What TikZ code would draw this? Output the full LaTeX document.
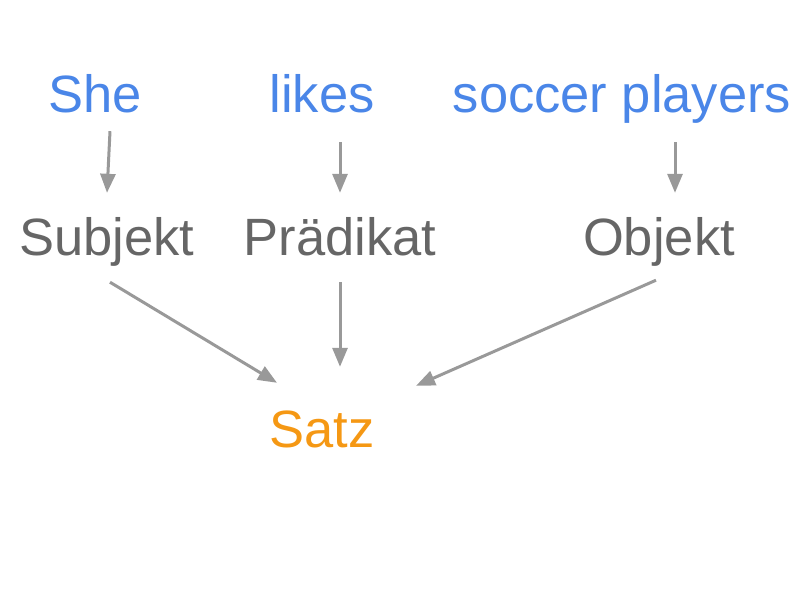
\documentclass[tikz,border=0pt]{standalone}
\usepackage{fontspec}
\setmainfont{Liberation Sans}
\usetikzlibrary{arrows.meta}
\definecolor{wordblue}{RGB}{74,134,232}
\definecolor{rolegray}{RGB}{102,102,102}
\definecolor{arrowgray}{RGB}{153,153,153}
\definecolor{satzorange}{RGB}{245,152,20}

\begin{document}
\begin{tikzpicture}[x=1pt, y=-1pt,
    word/.style={inner sep=0pt, anchor=base, text height=38pt, text depth=11pt,
        font=\fontsize{52.5}{60}\selectfont},
    arr/.style={draw=arrowgray, line width=3pt, -{Triangle[length=19pt,width=15pt]}}]
    \useasboundingbox (0,0) rectangle (800,600);

    \node[word, text=wordblue] (she) at (95,112) {She};
    \node[word, text=wordblue] (likes) at (322,112) {likes};
    \node[word, text=wordblue] (soccer) at (622,112) {soccer players};

    \node[word, text=rolegray] (subjekt) at (107,255) {Subjekt};
    \node[word, text=rolegray] (praedikat) at (340,255) {Prädikat};
    \node[word, text=rolegray] (objekt) at (659,255) {Objekt};

    \node[word, text=satzorange] (satz) at (322,447) {Satz};

    \draw[arr] ([shift={(15,8)}]she.south) -- ([shift={(0,-24)}]subjekt.north);
    \draw[arr] ([shift={(18,19)}]likes.south) -- ([shift={(0,-24)}]praedikat.north);
    \draw[arr] ([shift={(53,19)}]soccer.south) -- ([shift={(16,-24)}]objekt.north);
    \draw[arr] ([shift={(3,16)}]subjekt.south) -- ([shift={(-45,-26)}]satz.north);
    \draw[arr] ([shift={(0,16)}]praedikat.south) -- ([shift={(18,-42)}]satz.north);
    \draw[arr] ([shift={(-3,14)}]objekt.south) -- ([shift={(94,-23)}]satz.north);
\end{tikzpicture}
\end{document}
